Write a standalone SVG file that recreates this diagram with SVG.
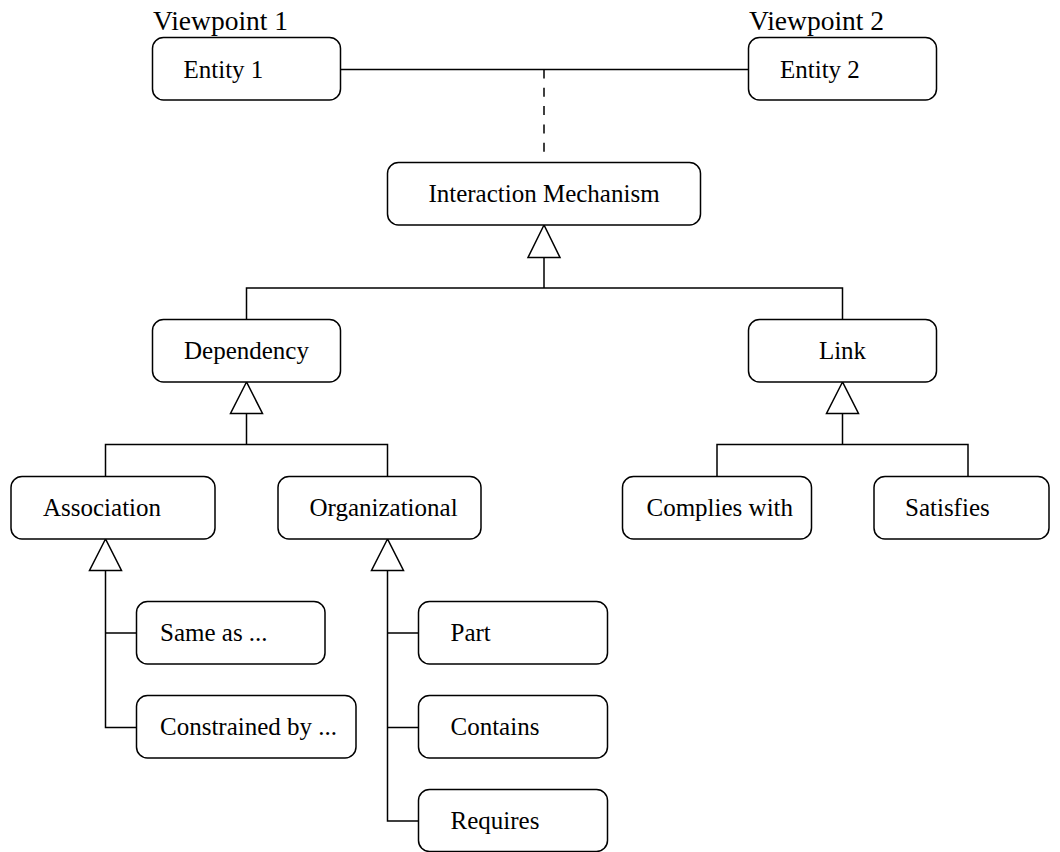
<svg xmlns="http://www.w3.org/2000/svg" width="1060" height="852" viewBox="0 0 1060 852">
<style>
.box{fill:#fff;stroke:#000;stroke-width:1.5}
.t{font-family:"Liberation Serif","Times New Roman",serif;font-size:25px;fill:#000}
.vp{font-family:"Liberation Serif","Times New Roman",serif;font-size:27.5px;fill:#000}
.ln{fill:none;stroke:#000;stroke-width:1.5}
.dash{fill:none;stroke:#000;stroke-width:1.5;stroke-dasharray:9 9.3}
.tri{fill:#fff;stroke:#000;stroke-width:1.5;stroke-linejoin:miter}
</style>
<rect width="1060" height="852" fill="#fff"/>
<text class="vp" x="153" y="30">Viewpoint 1</text>
<text class="vp" x="749" y="30">Viewpoint 2</text>
<g id="connectors">
<path class="ln" d="M340.5 69.5 H748.5"/>
<path class="dash" d="M544 69.5 V153"/>
<path class="ln" d="M544 257.5 V288 M246.5 319.5 V288 H842.5 V319.5"/>
<polygon class="tri" points="544,225 528,257.5 560,257.5"/>
<path class="ln" d="M246.5 413.5 V444.5 M105.5 476.5 V444.5 H387.5 V476.5"/>
<polygon class="tri" points="246.5,382 230.5,413.5 262.5,413.5"/>
<path class="ln" d="M842.5 413.5 V444.5 M717 476.5 V444.5 H968 V476.5"/>
<polygon class="tri" points="842.5,382 826.5,413.5 858.5,413.5"/>
<path class="ln" d="M105.5 570.5 V727.5 H136.5 M105.5 633 H136.5"/>
<polygon class="tri" points="105.5,539 89.5,570.5 121.5,570.5"/>
<path class="ln" d="M387.5 570.5 V821 H418.5 M387.5 633 H418.5 M387.5 727.5 H418.5"/>
<polygon class="tri" points="387.5,539 371.5,570.5 403.5,570.5"/>
</g>
<g id="entity1"><rect class="box" x="152.5" y="37.5" width="188" height="62.5" rx="11"/><text class="t" x="183.5" y="77.5">Entity 1</text></g>
<g id="entity2"><rect class="box" x="748.5" y="37.5" width="188" height="62.5" rx="11"/><text class="t" x="780" y="77.5">Entity 2</text></g>
<g id="interaction"><rect class="box" x="387.5" y="162.5" width="313" height="62.5" rx="11"/><text class="t" x="544" y="202" text-anchor="middle">Interaction Mechanism</text></g>
<g id="dependency"><rect class="box" x="152.5" y="319.5" width="188" height="62.5" rx="11"/><text class="t" x="246.5" y="359" text-anchor="middle">Dependency</text></g>
<g id="link"><rect class="box" x="748.5" y="319.5" width="188" height="62.5" rx="11"/><text class="t" x="842.5" y="359" text-anchor="middle">Link</text></g>
<g id="association"><rect class="box" x="11" y="476.5" width="204" height="62.5" rx="11"/><text class="t" x="43" y="516">Association</text></g>
<g id="organizational"><rect class="box" x="278" y="476.5" width="203" height="62.5" rx="11"/><text class="t" x="309.5" y="516">Organizational</text></g>
<g id="complies"><rect class="box" x="622.5" y="476.5" width="189" height="62.5" rx="11"/><text class="t" x="646.5" y="516">Complies with</text></g>
<g id="satisfies"><rect class="box" x="874" y="476.5" width="175" height="62.5" rx="11"/><text class="t" x="905" y="516">Satisfies</text></g>
<g id="sameas"><rect class="box" x="136.5" y="601.5" width="188.5" height="62.5" rx="11"/><text class="t" x="160" y="640.5">Same as ...</text></g>
<g id="constrained"><rect class="box" x="136.5" y="695.5" width="219.5" height="62.5" rx="11"/><text class="t" x="160" y="734.5">Constrained by ...</text></g>
<g id="part"><rect class="box" x="418.5" y="601.5" width="189" height="62.5" rx="11"/><text class="t" x="450.5" y="640.5">Part</text></g>
<g id="contains"><rect class="box" x="418.5" y="695.5" width="189" height="62.5" rx="11"/><text class="t" x="450.5" y="734.5">Contains</text></g>
<g id="requires"><rect class="box" x="418.5" y="789.5" width="189" height="62" rx="11"/><text class="t" x="450.5" y="828.5">Requires</text></g>
</svg>
